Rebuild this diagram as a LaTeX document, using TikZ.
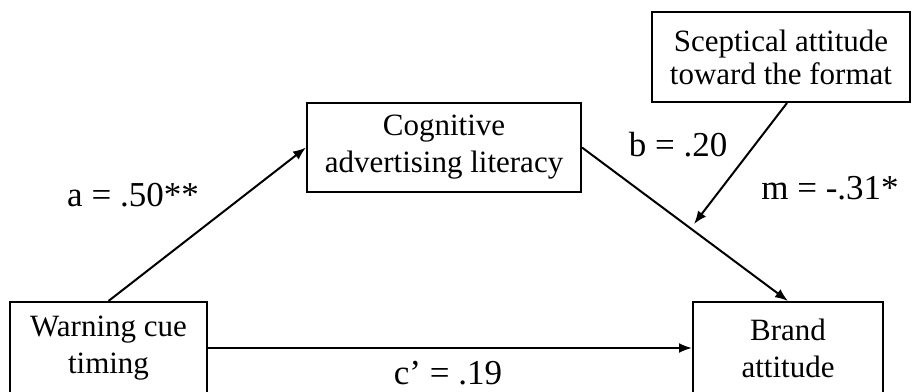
\documentclass[tikz,border=0pt]{standalone}
\usepackage{fontspec}
\setmainfont{Liberation Serif}
\usetikzlibrary{arrows.meta}

\tikzset{
  boxnode/.style={draw, line width=2pt, align=center, inner sep=0pt},
  path/.style={line width=2pt, -{Latex[length=13pt,width=10pt]}},
  coef/.style={inner sep=0pt, font=\fontsize{35}{40}\selectfont}
}

\begin{document}
\begin{tikzpicture}[x=1pt, y=-1pt, font=\fontsize{31}{37}\selectfont]
    \useasboundingbox (0,0) rectangle (912,391);

        \node[boxnode, minimum width=197pt, minimum height=92pt] (warn) at (108.5,348) {Warning cue\\timing};
        \node[boxnode, minimum width=274pt, minimum height=89pt] (cogn) at (444,147.5) {Cognitive\\advertising literacy};
        \node[boxnode, minimum width=190pt, minimum height=92pt] (brand) at (788,348) {Brand\\attitude};
        \node[boxnode, minimum width=258pt, minimum height=90pt, font=\fontsize{31}{33}\selectfont] (scep) at (781,57) {Sceptical attitude\\toward the format};
        \coordinate (mod) at (694,224);

        \draw[path] (warn.north) -- (cogn.west);
        \draw[path] (cogn.east) -- (brand.north);
        \draw[path] (warn.east) -- (brand.west);
        \draw[path] ([xshift=6pt]scep.south) -- (mod);

        \node[coef] (a) at (133,195) {a = .50**};
        \node[coef] (b) at (678,145) {b = .20};
        \node[coef] (m) at (830,188) {m = -.31*};
        \node[coef] (c) at (448,373) {c’ = .19};

\end{tikzpicture}
\end{document}
